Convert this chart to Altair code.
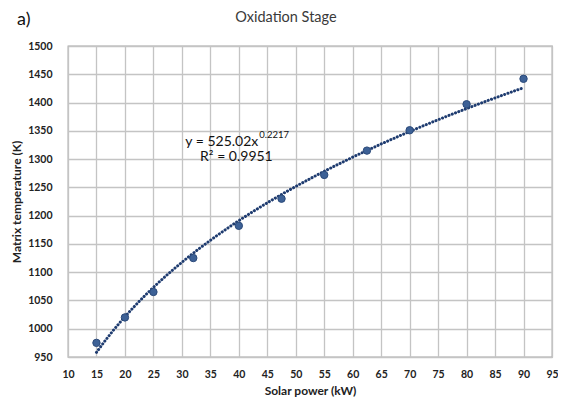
import altair as alt
import pandas as pd

# Data
solar_power = [15, 20, 25, 32, 40, 47.5, 55, 62.5, 70, 80, 90]
matrix_temp = [975, 1020, 1065, 1125, 1182, 1230, 1272, 1315, 1351, 1397, 1442]

x_ticks = list(range(10, 100, 5))
y_ticks = list(range(950, 1550, 50))

eq_main = "y = 525.02x"
eq_exp = "0.2217"
r2_text = "R\u00b2 = 0.9951"
chart_title = "Oxidation Stage"
panel_label = "a)"

df = pd.DataFrame({"x": solar_power, "y": matrix_temp})

FONT = "Lato"
x_scale = alt.Scale(domain=[10, 95], nice=False, zero=False)
y_scale = alt.Scale(domain=[950, 1500], nice=False, zero=False)

common_axis = dict(grid=True, domain=False, ticks=False, format="d", labelOverlap=False,
                   labelFontWeight="bold", labelFontSize=10.5, titleFontSize=12,
                   titleFontWeight="bold", labelFont=FONT, titleFont=FONT,
                   labelColor="#222", titleColor="#222", gridColor="#c4c4c4",
                   gridWidth=1.3, labelFlush=False)

x_enc = alt.X("x:Q", scale=x_scale, title="Solar power (kW)",
              axis=alt.Axis(values=x_ticks, labelPadding=12, titlePadding=6, **common_axis))
y_enc = alt.Y("y:Q", scale=y_scale, title="Matrix temperature (K)",
              axis=alt.Axis(values=y_ticks, labelPadding=16, titlePadding=4, **common_axis))

base = alt.Chart(df)

trend = base.transform_regression("x", "y", method="pow", extent=[15, 90]).mark_line(
    color="#1f3c70", strokeWidth=3, strokeDash=[0.1, 3.4], strokeCap="round"
).encode(x=x_enc, y=y_enc)

points = base.mark_point(filled=True, size=55, color="#3d6196", opacity=1,
                         stroke="#2b4a7a", strokeWidth=1).encode(x=x_enc, y=y_enc)

ann = pd.DataFrame({
    "x": [30.6, 43.6, 33.2],
    "y": [1331, 1343, 1303],
    "t": [eq_main, eq_exp, r2_text],
    "s": [14, 9.5, 14],
})
ann_text = alt.Chart(ann).mark_text(align="left", baseline="middle", font=FONT,
                                    color="#111").encode(
    x=x_enc, y=y_enc,
    text="t:N", size=alt.Size("s:Q", scale=None, legend=None))

label_a = alt.Chart(pd.DataFrame({"t": [panel_label]})).mark_text(
    align="left", baseline="middle", font=FONT, fontSize=18, color="#111"
).encode(x=alt.value(-51), y=alt.value(-26), text="t:N")

title_text = alt.Chart(pd.DataFrame({"t": [chart_title]})).mark_text(
    align="center", baseline="middle", font=FONT, fontSize=14.5, color="#3a3a3a"
).encode(x=alt.value(218), y=alt.value(-28), text="t:N")

chart = alt.layer(trend, points, ann_text, label_a, title_text).properties(
    width=484, height=311,
    autosize=alt.AutoSizeParams(type="none"),
    padding={"left": 60, "top": 38, "right": 6, "bottom": 40},
).configure_view(stroke="#a8a8a8", strokeWidth=1.3)

chart.save("out.html", embed_options={"renderer": "svg", "actions": False})
